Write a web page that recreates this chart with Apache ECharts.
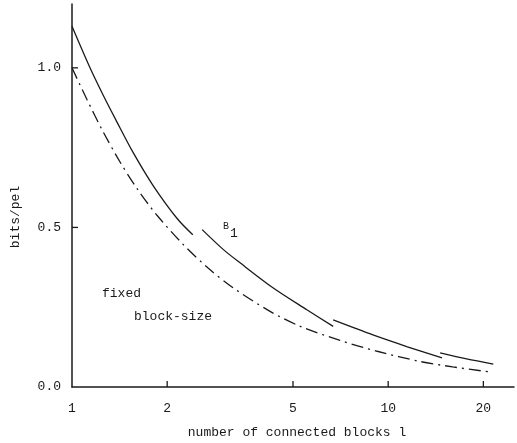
<!DOCTYPE html>
<html>
<head>
<meta charset="utf-8">
<script src="https://cdn.jsdelivr.net/npm/echarts@6/dist/echarts.min.js"></script>
<style>
html,body{margin:0;padding:0;background:#fff;}
#chart{width:517px;height:443px;}
</style>
</head>
<body>
<div id="chart"></div>
<script>
// x tick labels (log axis)
const xTickLabels = [1, 2, 5, 10, 20];
const xTicks = [2, 5, 10, 20];
const yTickLabels = [0, 0.5, 1.0];
const yTicks = [0.5, 1.0];
// B_l curve (solid), drawn in four segments
const solidSeg1 = [[1, 1.13], [1.14, 1.0], [1.254, 0.915], [1.388, 0.83], [1.56, 0.735], [1.803, 0.632], [2.15, 0.528], [2.41, 0.477]];
const solidSeg2 = [[2.58, 0.493], [3.0, 0.432], [3.4, 0.389], [4.32, 0.311], [5.53, 0.242], [6.7, 0.19]];
const solidSeg3 = [[6.7, 0.21], [8.95, 0.163], [11.5, 0.126], [14.8, 0.091]];
const solidSeg4 = [[14.6, 0.107], [17.7, 0.088], [21.5, 0.072]];
// fixed block-size curve (dash-dot)
const fixedBlock = [[1, 1.0], [1.116, 0.9], [1.254, 0.8], [1.419, 0.705], [1.605, 0.622], [1.857, 0.538], [2.245, 0.447], [2.7, 0.372], [3.23, 0.311], [4.23, 0.237], [5.27, 0.19], [7.04, 0.146], [9.23, 0.112], [12.6, 0.08], [16.0, 0.063], [21.0, 0.047]];

const FONT = '"Liberation Mono", "DejaVu Sans Mono", monospace';
const INK = '#1a1a1a';

const chart = echarts.init(document.getElementById('chart'), null, {renderer: 'canvas'});

function lineSeries(data, type) {
  return {
    type: 'line',
    data: data,
    smooth: 0.3,
    symbol: 'none',
    silent: true,
    lineStyle: {color: INK, width: 1.3, type: type}
  };
}

const textGraphics = [
  {type: 'text', x: 16, y: 217, rotation: Math.PI / 2, style: {text: 'bits/pel', font: '13px ' + FONT, fill: INK, align: 'center', verticalAlign: 'middle'}},
  {type: 'text', x: 297, y: 433, style: {text: 'number of connected blocks l', font: '13px ' + FONT, fill: INK, align: 'center', verticalAlign: 'middle'}},
  {type: 'text', x: 223, y: 226, style: {text: 'B', font: '10px ' + FONT, fill: INK, align: 'left', verticalAlign: 'middle'}},
  {type: 'text', x: 230, y: 234, style: {text: '1', font: '13px ' + FONT, fill: INK, align: 'left', verticalAlign: 'middle'}},
  {type: 'text', x: 102, y: 294, style: {text: 'fixed', font: '13px ' + FONT, fill: INK, align: 'left', verticalAlign: 'middle'}},
  {type: 'text', x: 134, y: 317, style: {text: 'block-size', font: '13px ' + FONT, fill: INK, align: 'left', verticalAlign: 'middle'}}
];

chart.setOption({
  animation: false,
  backgroundColor: '#fff',
  grid: {left: 72, right: 3, top: 4, bottom: 56, containLabel: false},
  xAxis: {
    type: 'log',
    logBase: 10,
    min: 1,
    max: 25,
    axisLine: {show: true, lineStyle: {color: INK, width: 1.5}},
    axisTick: {show: false},
    minorTick: {show: false},
    splitLine: {show: false},
    axisLabel: {customValues: xTickLabels, margin: 15, color: INK, fontFamily: FONT, fontSize: 13, formatter: v => String(Math.round(v))}
  },
  yAxis: {
    type: 'value',
    min: 0,
    max: 1.2,
    axisLine: {show: true, lineStyle: {color: INK, width: 1.5}},
    axisTick: {show: false},
    splitLine: {show: false},
    axisLabel: {customValues: yTickLabels, margin: 11, color: INK, fontFamily: FONT, fontSize: 13, formatter: v => v.toFixed(1)}
  },
  graphic: textGraphics,
  series: [
    lineSeries(solidSeg1, 'solid'),
    lineSeries(solidSeg2, 'solid'),
    lineSeries(solidSeg3, 'solid'),
    lineSeries(solidSeg4, 'solid'),
    lineSeries(fixedBlock, [12, 5, 2, 5])
  ]
});

// inward tick marks, positioned through the chart's own axis scales
const tickGraphics = [];
xTicks.forEach(v => {
  const p = chart.convertToPixel({gridIndex: 0}, [v, 0]);
  tickGraphics.push({type: 'line', shape: {x1: p[0], y1: p[1], x2: p[0], y2: p[1] - 6}, style: {stroke: INK, lineWidth: 1.3}, z: 10});
});
yTicks.forEach(v => {
  const p = chart.convertToPixel({gridIndex: 0}, [1, v]);
  tickGraphics.push({type: 'line', shape: {x1: p[0], y1: p[1], x2: p[0] + 6, y2: p[1]}, style: {stroke: INK, lineWidth: 1.3}, z: 10});
});
chart.setOption({graphic: textGraphics.concat(tickGraphics)});
</script>
</body>
</html>
